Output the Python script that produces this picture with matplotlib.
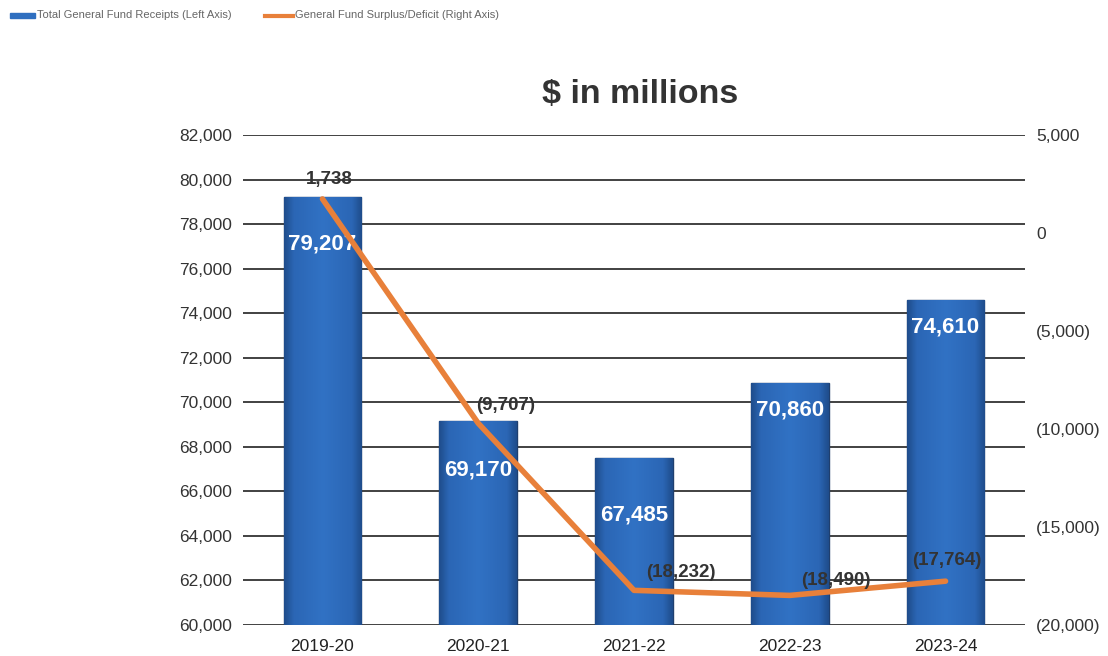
import matplotlib
matplotlib.use("Agg")
import matplotlib.pyplot as plt
import numpy as np
from matplotlib.colors import LinearSegmentedColormap

plt.rcParams['font.family'] = ['Liberation Sans', 'DejaVu Sans']

years = ["2019-20", "2020-21", "2021-22", "2022-23", "2023-24"]
receipts = [79207, 69170, 67485, 70860, 74610]
surplus = [1738, -9707, -18232, -18490, -17764]
left_ticks = list(range(60000, 82001, 2000))
right_ticks = [5000, 0, -5000, -10000, -15000, -20000]

def fmt(v):
    return f"({abs(v):,})" if v < 0 else f"{v:,}"

fig = plt.figure(figsize=(11.08, 6.56), dpi=100)
ax = fig.add_axes([243/1108, 1-625/656, (1025-243)/1108, (625-135)/656])
ax2 = ax.twinx()

x = np.arange(len(years))
w = 0.5
ax.set_xlim(-0.51, 4.51)
ax.set_ylim(60000, 82000)
ax2.set_ylim(-20000, 5000)

cmap = LinearSegmentedColormap.from_list(
    "bar", [(0, "#1f4d8c"), (0.12, "#2b66b5"), (0.5, "#3172c4"), (0.88, "#2b66b5"), (1, "#1f4d8c")])
grad = np.linspace(0, 1, 64).reshape(1, -1)
bars = ax.bar(x, receipts, width=w, color="#2f6fc0", edgecolor="#1f3f6e", linewidth=1.0, zorder=2)
for b in bars:
    im = ax.imshow(grad, cmap=cmap, aspect="auto", zorder=2.1,
                   extent=[b.get_x(), b.get_x() + b.get_width(), 60000, b.get_height()])
    im.set_clip_path(b)

bar_label_offsets = [-47, -49, -57, -27, -27]
for xi, v, dy in zip(x, receipts, bar_label_offsets):
    ax.annotate(f"{v:,}", (xi, v), xytext=(0, dy), textcoords="offset pixels",
                ha="center", va="center", color="white", fontsize=16, fontweight="bold", zorder=3)

ax.set_yticks(left_ticks)
ax.set_yticklabels([f"{t:,}" for t in left_ticks], fontsize=12.5, color="#333333")
ax.yaxis.grid(True, color="#333333", linewidth=1.3)
ax.set_axisbelow(True)
ax.set_xticks(x)
ax.set_xticklabels(years, fontsize=12.5, color="#222222")
ax.tick_params(axis="both", length=0, pad=8)
ax.tick_params(axis="x", pad=10)
for s in ax.spines.values():
    s.set_visible(False)
for s in ax2.spines.values():
    s.set_visible(False)

ax2.plot(x, surplus, color="#e8803a", linewidth=4, solid_capstyle="round", zorder=4)
ax2.set_yticks(right_ticks)
ax2.set_yticklabels([fmt(t) for t in right_ticks], fontsize=12.5, color="#333333")
ax2.tick_params(axis="y", length=0, pad=8)

label_offsets = [(7, 19), (27, 18), (47, 18), (46, 15), (1, 21)]
for xi, v, off in zip(x, surplus, label_offsets):
    ax2.annotate(fmt(v), (xi, v), xytext=off, textcoords="offset pixels",
                 ha="center", va="center", color="#333333", fontsize=13.5, fontweight="bold", zorder=5)

fig.text(640/1108, 1-95/656, "$ in millions", ha="center", va="center",
         fontsize=24.5, fontweight="bold", color="#333333")

# legend
fig.patches.append(plt.Rectangle((10/1108, 1-18/656), 25/1108, 5/656, transform=fig.transFigure,
                                 color="#2f6fc0", figure=fig))
fig.text(37/1108, 1-15.5/656, "Total General Fund Receipts (Left Axis)", fontsize=8,
         color="#666666", va="center", ha="left")
fig.lines.append(plt.Line2D([265/1108, 293/1108], [1-15.5/656, 1-15.5/656], transform=fig.transFigure,
                            color="#e8803a", linewidth=3, figure=fig))
fig.text(295/1108, 1-15.5/656, "General Fund Surplus/Deficit (Right Axis)", fontsize=8,
         color="#666666", va="center", ha="left")

fig.savefig("out.png", dpi=100)
